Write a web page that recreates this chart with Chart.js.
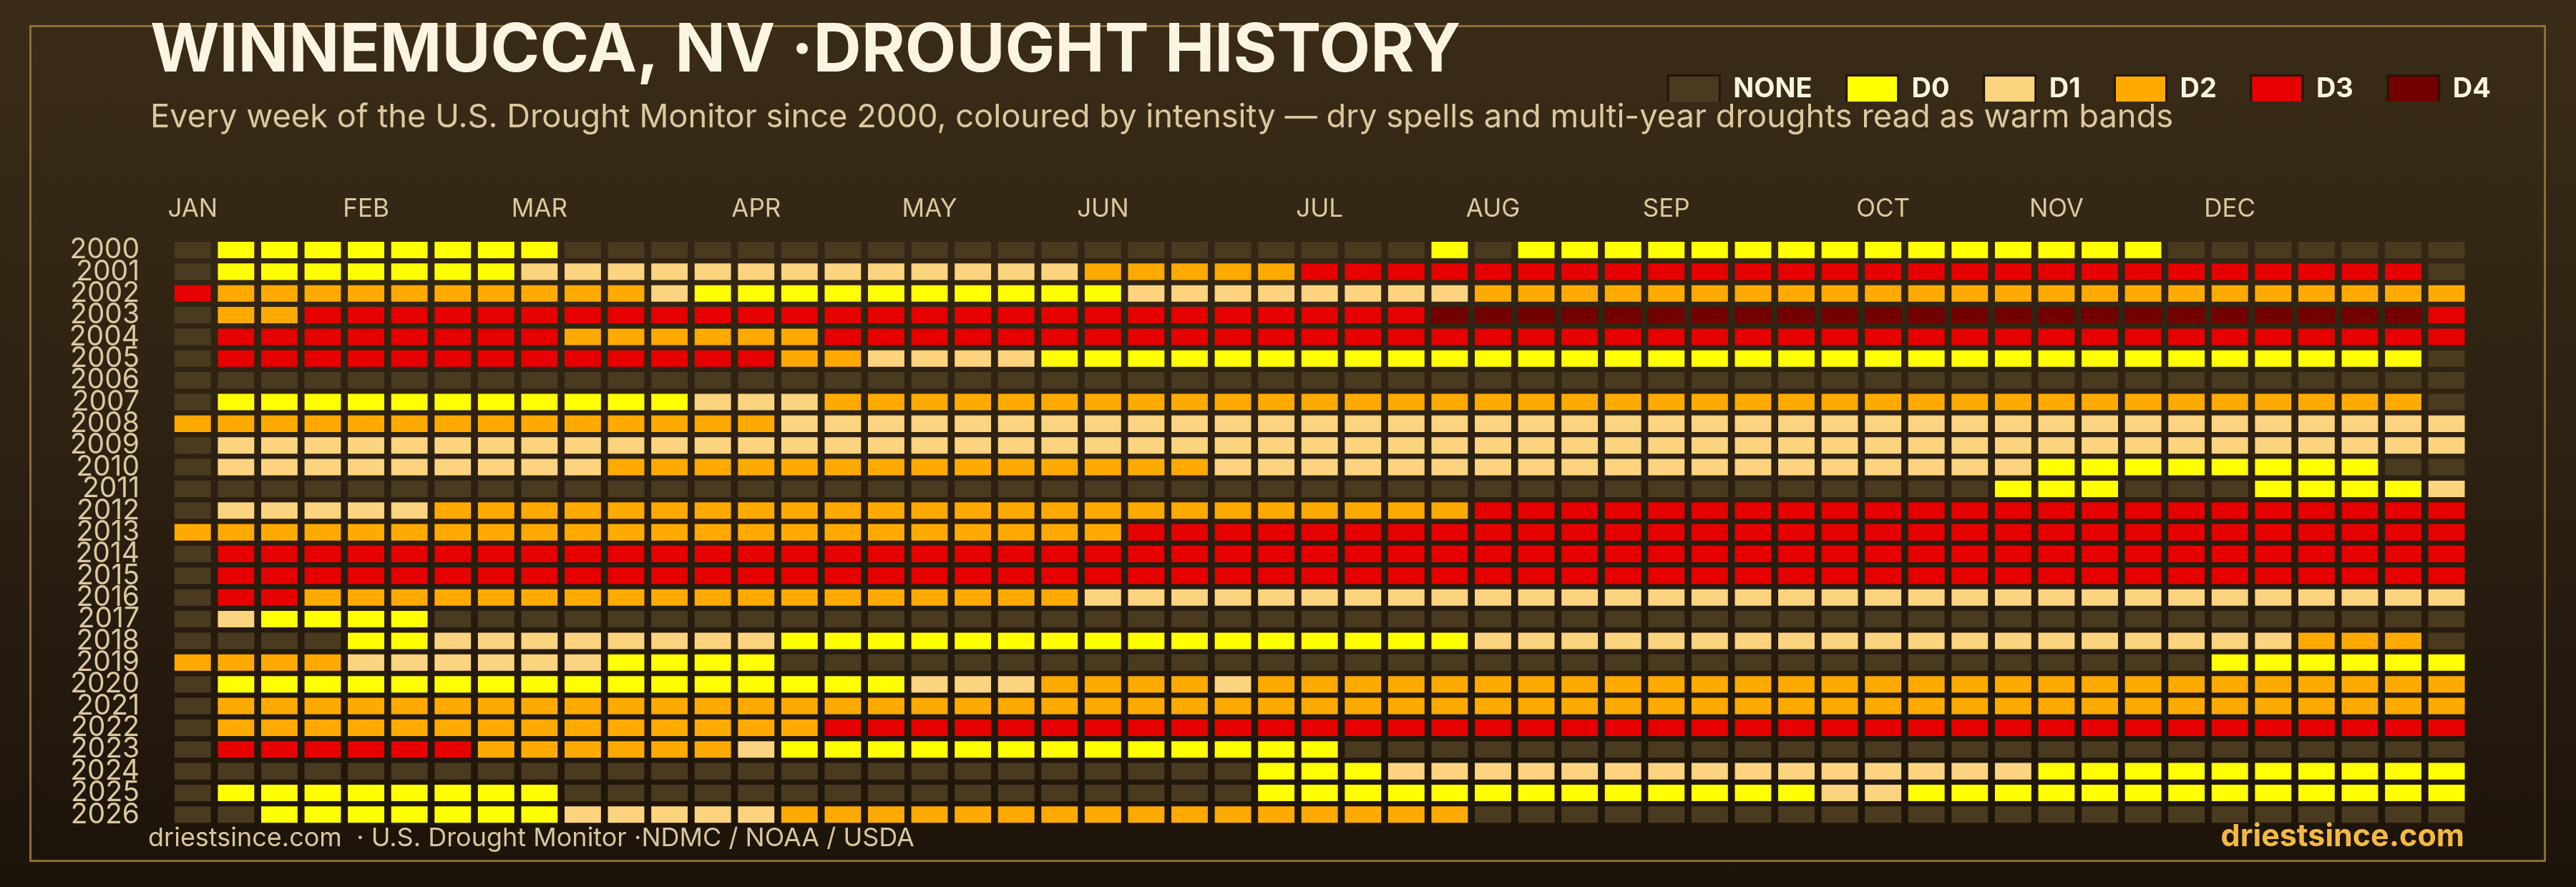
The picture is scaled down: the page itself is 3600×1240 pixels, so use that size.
<!DOCTYPE html>
<html lang="en">
<head>
<meta charset="utf-8">
<title>Winnemucca, NV · Drought History</title>
<script src="https://cdn.jsdelivr.net/npm/chart.js@4.4.1/dist/chart.umd.min.js"></script>
<style>
  html, body { margin: 0; padding: 0; }
  body {
    position: relative;
    width: 3600px;
    height: 1240px;
    overflow: hidden;
    background: linear-gradient(180deg, #3a2c17 0%, #2d2112 50%, #1c1309 100%);
    font-family: Inter, 'Noto Sans', sans-serif;
  }
  .frame {
    position: absolute;
    left: 41px;
    top: 35px;
    width: 3517px;
    height: 1170px;
    box-sizing: border-box;
    border: 3px solid #8c6e36;
  }
  #drought { position: absolute; left: 0; top: 0; }
  .source {
    position: absolute;
    left: 207px;
    top: 1149px;
    font-size: 36px;
    line-height: 42px;
    color: #d9c59c;
    white-space: pre;
  }
  .brand {
    position: absolute;
    right: 156px;
    top: 1141px;
    font-size: 43px;
    line-height: 52px;
    font-weight: 700;
    color: #f4b942;
  }
</style>
</head>
<body>
<div class="frame"></div>
<canvas id="drought" width="3600" height="1240"></canvas>
<div class="source">driestsince.com  · U.S. Drought Monitor ·NDMC / NOAA / USDA</div>
<div class="brand">driestsince.com</div>

<script>
const years = [
  '2000', '2001', '2002', '2003', '2004', '2005', '2006', '2007', '2008',
  '2009', '2010', '2011', '2012', '2013', '2014', '2015', '2016', '2017',
  '2018', '2019', '2020', '2021', '2022', '2023', '2024', '2025', '2026',
]
const levelNames = ['NONE', 'D0', 'D1', 'D2', 'D3', 'D4']
const levelColors = ['#4a3a20', '#ffff00', '#fcd37f', '#ffaa00', '#e60000', '#730000']
const monthNames = ['JAN', 'FEB', 'MAR', 'APR', 'MAY', 'JUN', 'JUL', 'AUG', 'SEP', 'OCT', 'NOV', 'DEC']
const monthWeeks = [0, 4, 8, 13, 17, 21, 26, 30, 34, 39, 43, 47]

// one digit per week (53 weeks, in groups of 10): 0 = none, 1..5 = D0..D4
const weeklyLevels = [
  '0111111110 0000000000 0000000001 0111111111 1111110000 000', // 2000
  '0111111122 2222222222 2333334444 4444444444 4444444444 440', // 2001
  '4333333333 3211111111 1122222222 3333333333 3333333333 333', // 2002
  '0334444444 4444444444 4444444445 5555555555 5555555555 554', // 2003
  '0444444443 3333344444 4444444444 4444444444 4444444444 444', // 2004
  '0444444444 4444332222 1111111111 1111111111 1111111111 110', // 2005
  '0000000000 0000000000 0000000000 0000000000 0000000000 000', // 2006
  '0111111111 1122233333 3333333333 3333333333 3333333333 330', // 2007
  '3333333333 3333222222 2222222222 2222222222 2222222222 222', // 2008
  '0222222222 2222222222 2222222222 2222222222 2222222222 222', // 2009
  '0222222222 3333333333 3333222222 2222222222 2221111111 100', // 2010
  '0000000000 0000000000 0000000000 0000000000 0011100011 112', // 2011
  '0222223333 3333333333 3333333333 4444444444 4444444444 444', // 2012
  '3333333333 3333333333 3344444444 4444444444 4444444444 444', // 2013
  '0444444444 4444444444 4444444444 4444444444 4444444444 444', // 2014
  '0444444444 4444444444 4444444444 4444444444 4444444444 444', // 2015
  '0443333333 3333333333 3222222222 2222222222 2222222222 222', // 2016
  '0211110000 0000000000 0000000000 0000000000 0000000000 000', // 2017
  '0000112222 2222111111 1111111111 2222222222 2222222223 330', // 2018
  '3333222222 1111000000 0000000000 0000000000 0000000111 111', // 2019
  '0111111111 1111111222 3333233333 3333333333 3333333333 333', // 2020
  '0333333333 3333333333 3333333333 3333333333 3333333333 333', // 2021
  '0333333333 3333344444 4444444444 4444444444 4444444444 444', // 2022
  '0444444333 3332111111 1111111000 0000000000 0000000000 000', // 2023
  '0000000000 0000000000 0000011122 2222222222 2221111111 111', // 2024
  '0111111110 0000000000 0000011111 1111111122 1111111111 111', // 2025
  '0011111112 2222333333 3333333333 0000000000 0000000000 000', // 2026
]

const fontFamily = 'Inter, "Noto Sans", sans-serif'
const cream = '#fcf4e2'
const tan = '#dcc8a0'
const yearFontSize = 39

const levels = weeklyLevels.map((row) => row.replace(/ /g, '').split('').map(Number))
const weekCount = levels[0].length

// one floating-bar dataset per week, coloured cell by cell
const datasets = []
for (let w = 0; w < weekCount; w++) {
  datasets.push({
    label: `Week ${w + 1}`,
    data: levels.map(() => [w + 0.08, w + 0.92]),
    backgroundColor: levels.map((row) => levelColors[row[w]]),
    borderWidth: 0,
    grouped: false,
    categoryPercentage: 1,
    barPercentage: 0.76,
  })
}

// year labels are mirrored (so they are not clipped) and pulled back left of the grid
const measure = document.createElement('canvas').getContext('2d')
measure.font = `${yearFontSize}px ${fontFamily}`
const widestYear = Math.max(...years.map((y) => measure.measureText(y).width))

Chart.defaults.font.family = fontFamily

new Chart(document.getElementById('drought'), {
  type: 'bar',
  data: { labels: years, datasets },
  options: {
    indexAxis: 'y',
    responsive: false,
    animation: false,
    events: [],
    layout: { padding: { top: 26, left: 210, right: 71, bottom: 86 } },
    scales: {
      x: {
        type: 'linear',
        position: 'top',
        min: 0,
        max: weekCount,
        grid: { display: false, drawTicks: false, tickLength: 0 },
        border: { display: false },
        afterBuildTicks: (scale) => {
          scale.ticks = monthWeeks.map((w) => ({ value: w + 0.5 }))
        },
        ticks: {
          autoSkip: false,
          maxRotation: 0,
          padding: 21,
          color: tan,
          font: { size: 35 },
          callback: (value, index) => monthNames[index],
        },
      },
      y: {
        grid: { display: false, drawTicks: false, tickLength: 0 },
        border: { display: false },
        afterFit: (scale) => {
          scale.width = 29
        },
        ticks: {
          autoSkip: false,
          mirror: true,
          crossAlign: 'far',
          padding: -44 - widestYear,
          color: tan,
          font: { size: yearFontSize, lineHeight: 1 },
        },
      },
      // empty axis on the right, keeps the grid clear of the legend edge
      spacer: {
        type: 'category',
        position: 'right',
        grid: { display: false, drawTicks: false, tickLength: 0 },
        border: { display: false },
        ticks: { display: false },
        afterFit: (scale) => {
          scale.width = 79.6
        },
      },
    },
    plugins: {
      tooltip: { enabled: false },
      title: {
        display: true,
        text: 'WINNEMUCCA, NV ·DROUGHT HISTORY',
        align: 'start',
        color: cream,
        font: { size: 93, weight: 'bold', lineHeight: 1 },
        padding: { top: 0, bottom: -61.5 },
      },
      legend: {
        position: 'top',
        align: 'end',
        weight: 1800,
        maxHeight: 84.5,
        onClick: () => {},
        labels: {
          boxWidth: 72,
          boxHeight: 38,
          padding: 48,
          color: cream,
          font: { size: 38, weight: 'bold' },
          generateLabels: () =>
            levelNames.map((name, i) => ({
              text: name,
              fillStyle: levelColors[i],
              strokeStyle: '#22170b',
              lineWidth: 3,
              fontColor: cream,
              hidden: false,
              index: i,
            })),
        },
      },
      subtitle: {
        display: true,
        text: 'Every week of the U.S. Drought Monitor since 2000, coloured by intensity — dry spells and multi-year droughts read as warm bands',
        align: 'start',
        color: tan,
        font: { size: 45.3, lineHeight: 1 },
        padding: { top: 0, bottom: 63 },
      },
    },
  },
})
</script>
</body>
</html>
